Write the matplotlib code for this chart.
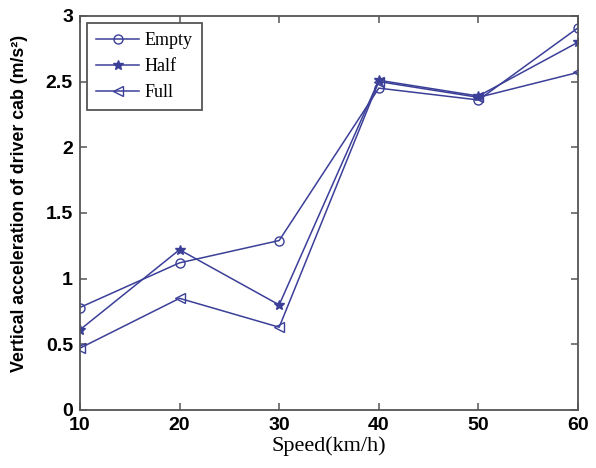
import matplotlib
matplotlib.use("Agg")
import matplotlib.pyplot as plt

speed = [10, 20, 30, 40, 50, 60]
empty = [0.78, 1.12, 1.29, 2.45, 2.36, 2.91]
half = [0.61, 1.22, 0.80, 2.51, 2.39, 2.80]
full = [0.47, 0.85, 0.63, 2.50, 2.38, 2.57]
xticks = [10, 20, 30, 40, 50, 60]
yticks = [0, 0.5, 1, 1.5, 2, 2.5, 3]
ytick_labels = ["0", "0.5", "1", "1.5", "2", "2.5", "3"]

color = "#3b3f98"
fig = plt.figure(figsize=(5.96, 4.68), dpi=100)
ax = fig.add_axes([0.134, 0.124, 0.836, 0.842])
ax.plot(speed, empty, color=color, marker="o", mfc="none", ms=6.5, lw=1.1, label="Empty")
ax.plot(speed, half, color=color, marker="*", ms=7, lw=1.1, label="Half")
ax.plot(speed, full, color=color, marker="<", mfc="none", ms=6.5, lw=1.1, label="Full")
ax.set_xlim(10, 60)
ax.set_ylim(0, 3)
ax.set_xticks(xticks)
ax.set_yticks(yticks)
ax.set_yticklabels(ytick_labels)
ax.tick_params(direction="in", top=True, right=True, labelsize=14, length=5,
               color="#555555", width=1.1)
ax.tick_params(axis="y", pad=5)
ax.tick_params(axis="x", pad=5)
for lab in ax.get_xticklabels() + ax.get_yticklabels():
    lab.set_family("Liberation Sans")
    lab.set_fontweight("bold")
for s in ax.spines.values():
    s.set_color("#555555")
    s.set_linewidth(1.3)
ax.set_xlabel("Speed(km/h)", family="Liberation Serif", fontsize=16, labelpad=2)
ax.set_ylabel("Vertical acceleration of driver cab (m/s\u00b2)", family="Liberation Sans",
              fontsize=12.8, fontweight="bold")
ax.yaxis.set_label_coords(-0.105, 0.523)
leg = ax.legend(loc="upper left", prop={"family": "Liberation Serif", "size": 13},
                fancybox=False, edgecolor="#555555", framealpha=1, borderaxespad=0.4,
                handlelength=2.4, handletextpad=0.3, labelspacing=0.5, borderpad=0.5)
leg.get_frame().set_linewidth(1.3)
fig.savefig("out.png", dpi=100)
